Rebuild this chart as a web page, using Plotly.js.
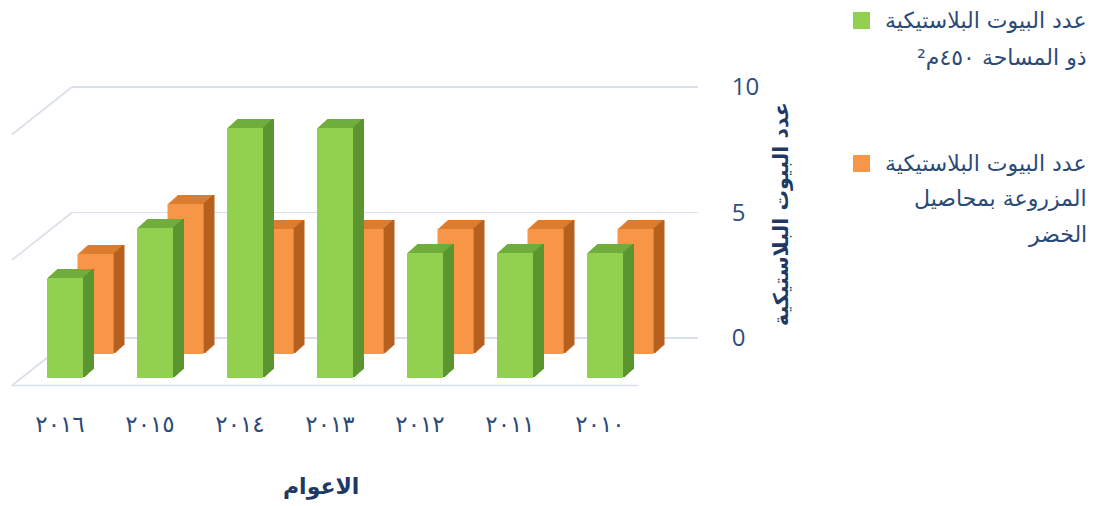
<!DOCTYPE html>
<html>
<head>
<meta charset="utf-8">
<script src="https://cdn.plot.ly/plotly-3.0.1.min.js"></script>
<style>html,body{margin:0;padding:0;background:#fff;}#chart{width:1093px;height:506px;}</style>
</head>
<body>
<div id="chart"></div>
<script>
// ---------- data ----------
const years = ['٢٠١٦', '٢٠١٥', '٢٠١٤', '٢٠١٣', '٢٠١٢', '٢٠١١', '٢٠١٠'];
const houses450 = [4, 6, 10, 10, 5, 5, 5];
const housesVeg = [4, 6, 5, 5, 5, 5, 5];
const yTickVals = [0, 5, 10];
const legend450Lines = ['عدد البيوت البلاستيكية', 'ذو المساحة ٤٥٠م²'];
const legendVegLines = ['عدد البيوت البلاستيكية', 'المزروعة بمحاصيل', 'الخضر'];
const xTitle = 'الاعوام';
const yTitle = 'عدد البيوت البلاستيكية';

// ---------- geometry helpers ----------
const W = 1093, H = 506;
const px = x => x / W;
const py = y => 1 - y / H;
const SCALE = 25;          // px per unit
const CAT = 90;            // px per category
function yDom(zeroPx, scale, rmin, rmax) {
  return [Math.max(0, py(zeroPx - rmin * scale)), Math.min(1, py(zeroPx - rmax * scale))];
}

const N = 10;              // extrusion steps
const dxU = 1 / CAT;       // 1px in category units
const dyU = 0.9 / SCALE;   // 0.9px in value units
const BW = 0.4;            // bar width

const colors = {
  green: {face: '#92D050', top: '#6FAE3C', side: '#5A9530'},
  orange: {face: '#F79646', top: '#DC7C2E', side: '#B5611F'}
};

function prism(vals, xa, ya, c, name) {
  const tr = [];
  for (let k = 1; k <= N; k++) {
    tr.push({type: 'bar', x: years, y: vals, base: vals.map(() => k * dyU),
      offset: -BW / 2 + k * dxU, width: BW, xaxis: xa, yaxis: ya,
      marker: {color: c.top, line: {width: 0}}, hoverinfo: 'skip', showlegend: false});
  }
  for (let k = 1; k <= N; k++) {
    tr.push({type: 'bar', x: years, y: vals, base: vals.map(() => k * dyU),
      offset: BW / 2 + (k - 1) * dxU, width: 2 * dxU, xaxis: xa, yaxis: ya,
      marker: {color: c.side, line: {width: 0}}, hoverinfo: 'skip', showlegend: false});
  }
  tr.push({type: 'bar', name: name, x: years, y: vals, offset: -BW / 2, width: BW,
    xaxis: xa, yaxis: ya, marker: {color: c.face, line: {width: 0}}, showlegend: false});
  return tr;
}

// invisible carrier so the back-wall subplot (grid + value ticks) is drawn
const wallTrace = {type: 'scatter', mode: 'markers', x: [0.5], y: [yTickVals[0]], xaxis: 'x', yaxis: 'y',
  marker: {opacity: 0, size: 1}, hoverinfo: 'skip', showlegend: false};

const traces = [wallTrace].concat(
  prism(housesVeg, 'x2', 'y2', colors.orange, legendVegLines.join(' ')),
  prism(houses450, 'x3', 'y3', colors.green, legend450Lines.join(' '))
);

// wall geometry
const WALL_L = 72, WALL_R = 698, WALL_ZERO = 338, WALL_SCALE = 25.1;
const DEPTH_DX = -60, DEPTH_DY = 47.5;
const gridCol = '#D9E0EA';

const shapes = [];
yTickVals.forEach(v => {
  const yb = WALL_ZERO - v * WALL_SCALE;
  shapes.push({type: 'line', xref: 'paper', yref: 'paper', layer: 'below',
    x0: px(WALL_L), y0: py(yb), x1: px(WALL_L + DEPTH_DX), y1: py(yb + DEPTH_DY),
    line: {color: gridCol, width: 1.6}});
});
shapes.push({type: 'line', xref: 'paper', yref: 'paper', layer: 'below',
  x0: px(WALL_L + DEPTH_DX), y0: py(WALL_ZERO + DEPTH_DY),
  x1: px(WALL_R + DEPTH_DX), y1: py(WALL_ZERO + DEPTH_DY),
  line: {color: gridCol, width: 1.6}});

// legend swatches
const legendTextCol = '#2B4A78';
shapes.push({type: 'rect', xref: 'paper', yref: 'paper', x0: px(853), x1: px(870), y0: py(12), y1: py(29),
  fillcolor: colors.green.face, line: {width: 0}});
shapes.push({type: 'rect', xref: 'paper', yref: 'paper', x0: px(853), x1: px(870), y0: py(155), y1: py(172),
  fillcolor: colors.orange.face, line: {width: 0}});

const annotations = [];
const legFont = {family: 'DejaVu Sans, sans-serif', size: 22, color: legendTextCol};
const lineY450 = [21, 57];
const lineYVeg = [163, 199, 234];
legend450Lines.forEach((t, i) => annotations.push({text: t, xref: 'paper', yref: 'paper',
  x: px(1089), y: py(lineY450[i]), xanchor: 'right', yanchor: 'middle', showarrow: false, font: legFont}));
legendVegLines.forEach((t, i) => annotations.push({text: t, xref: 'paper', yref: 'paper',
  x: px(1089), y: py(lineYVeg[i]), xanchor: 'right', yanchor: 'middle', showarrow: false, font: legFont}));

annotations.push({text: '<b>' + yTitle + '</b>', textangle: -90, xref: 'paper', yref: 'paper',
  x: px(781), y: py(214), xanchor: 'center', yanchor: 'middle', showarrow: false,
  font: {family: 'DejaVu Sans, sans-serif', size: 20.5, color: '#1F3864'}});
annotations.push({text: '<b>' + xTitle + '</b>', xref: 'paper', yref: 'paper',
  x: px(321), y: py(487), xanchor: 'center', yanchor: 'middle', showarrow: false,
  font: {family: 'DejaVu Sans, sans-serif', size: 22, color: '#1F3864'}});

const hiddenCat = {type: 'category', categoryorder: 'array', categoryarray: years, range: [-0.5, 6.5],
  showgrid: false, zeroline: false, showline: false, ticks: '', showticklabels: false, fixedrange: true};
const hiddenY = {range: [0, 14], showgrid: false, zeroline: false, showline: false, ticks: '',
  showticklabels: false, fixedrange: true};

const layout = {
  width: W, height: H, autosize: false,
  margin: {l: 0, r: 0, t: 0, b: 0, pad: 0},
  paper_bgcolor: '#ffffff', plot_bgcolor: 'rgba(0,0,0,0)',
  barmode: 'overlay', showlegend: false, hovermode: false,
  // back wall
  xaxis: {domain: [px(WALL_L), px(WALL_R)], range: [0, 1], showgrid: false, zeroline: false,
    showline: false, ticks: '', showticklabels: false, fixedrange: true, anchor: 'y'},
  yaxis: {domain: yDom(WALL_ZERO, WALL_SCALE, -0.1, 12), range: [-0.1, 12], anchor: 'x', side: 'right',
    tickmode: 'array', tickvals: yTickVals, ticktext: yTickVals.map(String),
    showgrid: true, gridcolor: gridCol, gridwidth: 1.6, zeroline: false, showline: false,
    ticks: 'outside', ticklen: 28, tickcolor: 'rgba(0,0,0,0)',
    tickfont: {family: 'Open Sans, sans-serif', size: 24, color: '#2E4D7B'}, fixedrange: true},
  // back row (orange)
  xaxis2: Object.assign({}, hiddenCat, {domain: [px(50.5), px(680.5)], anchor: 'y2'}),
  yaxis2: Object.assign({}, hiddenY, {domain: yDom(354, SCALE, 0, 14), anchor: 'x2'}),
  // front row (green)
  xaxis3: Object.assign({}, hiddenCat, {domain: [px(20), px(650)], anchor: 'y3',
    showticklabels: true, ticklabelshift: -5, ticklabelstandoff: 30,
    tickfont: {family: 'DejaVu Sans, sans-serif', size: 23, color: '#2B4A78'}}),
  yaxis3: Object.assign({}, hiddenY, {domain: yDom(378, SCALE, 0, 14), anchor: 'x3'}),
  shapes: shapes,
  annotations: annotations
};

Plotly.newPlot('chart', traces, layout, {staticPlot: true, displayModeBar: false});
</script>
</body>
</html>
